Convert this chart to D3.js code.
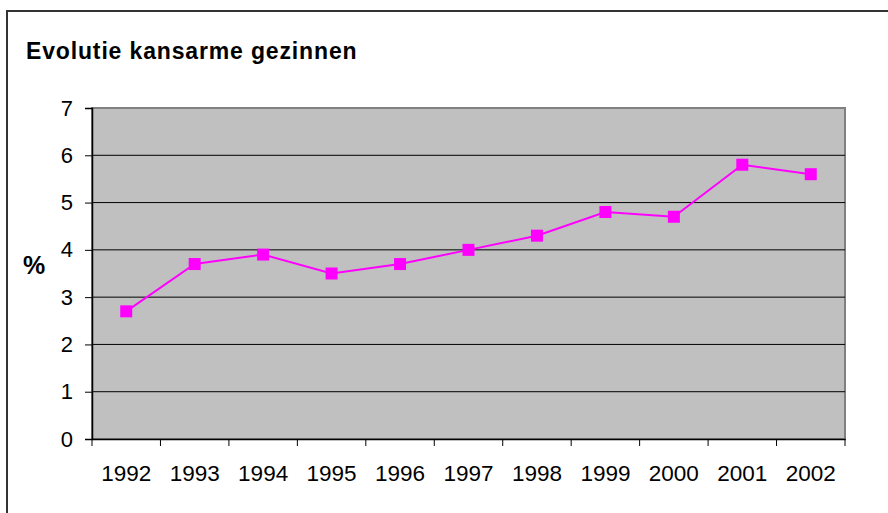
<!DOCTYPE html>
<html>
<head>
<meta charset="utf-8">
<script src="https://cdn.jsdelivr.net/npm/d3@7"></script>
<style>
  body { margin: 0; background: #fff; }
  svg { display: block; font-family: "Liberation Sans", Arial, sans-serif; }
</style>
</head>
<body>
<script>
var width = 888;
var height = 513;

var years = ['1992', '1993', '1994', '1995', '1996', '1997', '1998', '1999', '2000', '2001', '2002'];
var values = [2.7, 3.7, 3.9, 3.5, 3.7, 4.0, 4.3, 4.8, 4.7, 5.8, 5.6];
var yTicks = [0, 1, 2, 3, 4, 5, 6, 7];

var plot = { left: 92, top: 108, right: 845, bottom: 439 };

var svg = d3.select('body').append('svg')
    .attr('width', width)
    .attr('height', height);

// outer frame
svg.append('rect')
    .attr('x', 7).attr('y', 11)
    .attr('width', 900).attr('height', 520)
    .attr('fill', '#fff')
    .attr('stroke', '#333')
    .attr('stroke-width', 2);

svg.append('text')
    .attr('x', 26).attr('y', 59)
    .attr('font-size', 23)
    .attr('font-weight', 'bold')
    .attr('letter-spacing', 0.85)
    .text('Evolutie kansarme gezinnen');

var x = d3.scaleBand()
    .domain(years)
    .range([plot.left, plot.right]);

var y = d3.scaleLinear()
    .domain([0, 7])
    .range([plot.bottom, plot.top]);

// plot background
svg.append('rect')
    .attr('x', plot.left).attr('y', plot.top)
    .attr('width', plot.right - plot.left)
    .attr('height', plot.bottom - plot.top)
    .attr('fill', '#c0c0c0')
    .attr('stroke', '#808080')
    .attr('stroke-width', 2);

// gridlines
svg.append('g')
  .selectAll('line')
  .data(yTicks.filter(function(d) { return d > 0 && d < 7; }))
  .enter().append('line')
    .attr('x1', plot.left).attr('x2', plot.right)
    .attr('y1', function(d) { return y(d); })
    .attr('y2', function(d) { return y(d); })
    .attr('stroke', '#000')
    .attr('stroke-width', 1);

// y axis
var yAxis = svg.append('g')
    .attr('transform', 'translate(' + plot.left + ',0)')
    .call(d3.axisLeft(y).tickValues(yTicks).tickSize(7).tickPadding(12).tickFormat(d3.format('d')));
yAxis.selectAll('text').attr('font-size', 22).attr('fill', '#000').attr('font-family', '"Liberation Sans", Arial, sans-serif');
yAxis.selectAll('line').attr('stroke', '#000');
yAxis.select('.domain').attr('stroke', '#000').attr('stroke-width', 1.5);

// x axis
var xAxis = svg.append('g')
    .attr('transform', 'translate(0,' + plot.bottom + ')')
    .call(d3.axisBottom(x).tickSize(0).tickPadding(26));
xAxis.selectAll('text').attr('font-size', 22.5).attr('fill', '#000').attr('font-family', '"Liberation Sans", Arial, sans-serif');
xAxis.select('.domain').attr('stroke', '#000').attr('stroke-width', 1.5);

// x ticks at band boundaries
var bounds = years.map(function(d) { return x(d); }).concat([plot.right]);
svg.append('g')
  .selectAll('line')
  .data(bounds)
  .enter().append('line')
    .attr('x1', function(d) { return d; })
    .attr('x2', function(d) { return d; })
    .attr('y1', plot.bottom)
    .attr('y2', plot.bottom + 7)
    .attr('stroke', '#000');

svg.append('text')
    .attr('x', 23).attr('y', 274)
    .attr('font-size', 25)
    .attr('font-weight', 'bold')
    .text('%');

var cx = function(d, i) { return x(years[i]) + x.bandwidth() / 2; };

var line = d3.line()
    .x(cx)
    .y(function(d) { return y(d); });

svg.append('path')
    .datum(values)
    .attr('d', line)
    .attr('fill', 'none')
    .attr('stroke', '#ff00ff')
    .attr('stroke-width', 2);

svg.append('g')
  .selectAll('rect')
  .data(values)
  .enter().append('rect')
    .attr('x', function(d, i) { return cx(d, i) - 6; })
    .attr('y', function(d) { return y(d) - 6; })
    .attr('width', 12)
    .attr('height', 12)
    .attr('fill', '#ff00ff');
</script>
</body>
</html>
